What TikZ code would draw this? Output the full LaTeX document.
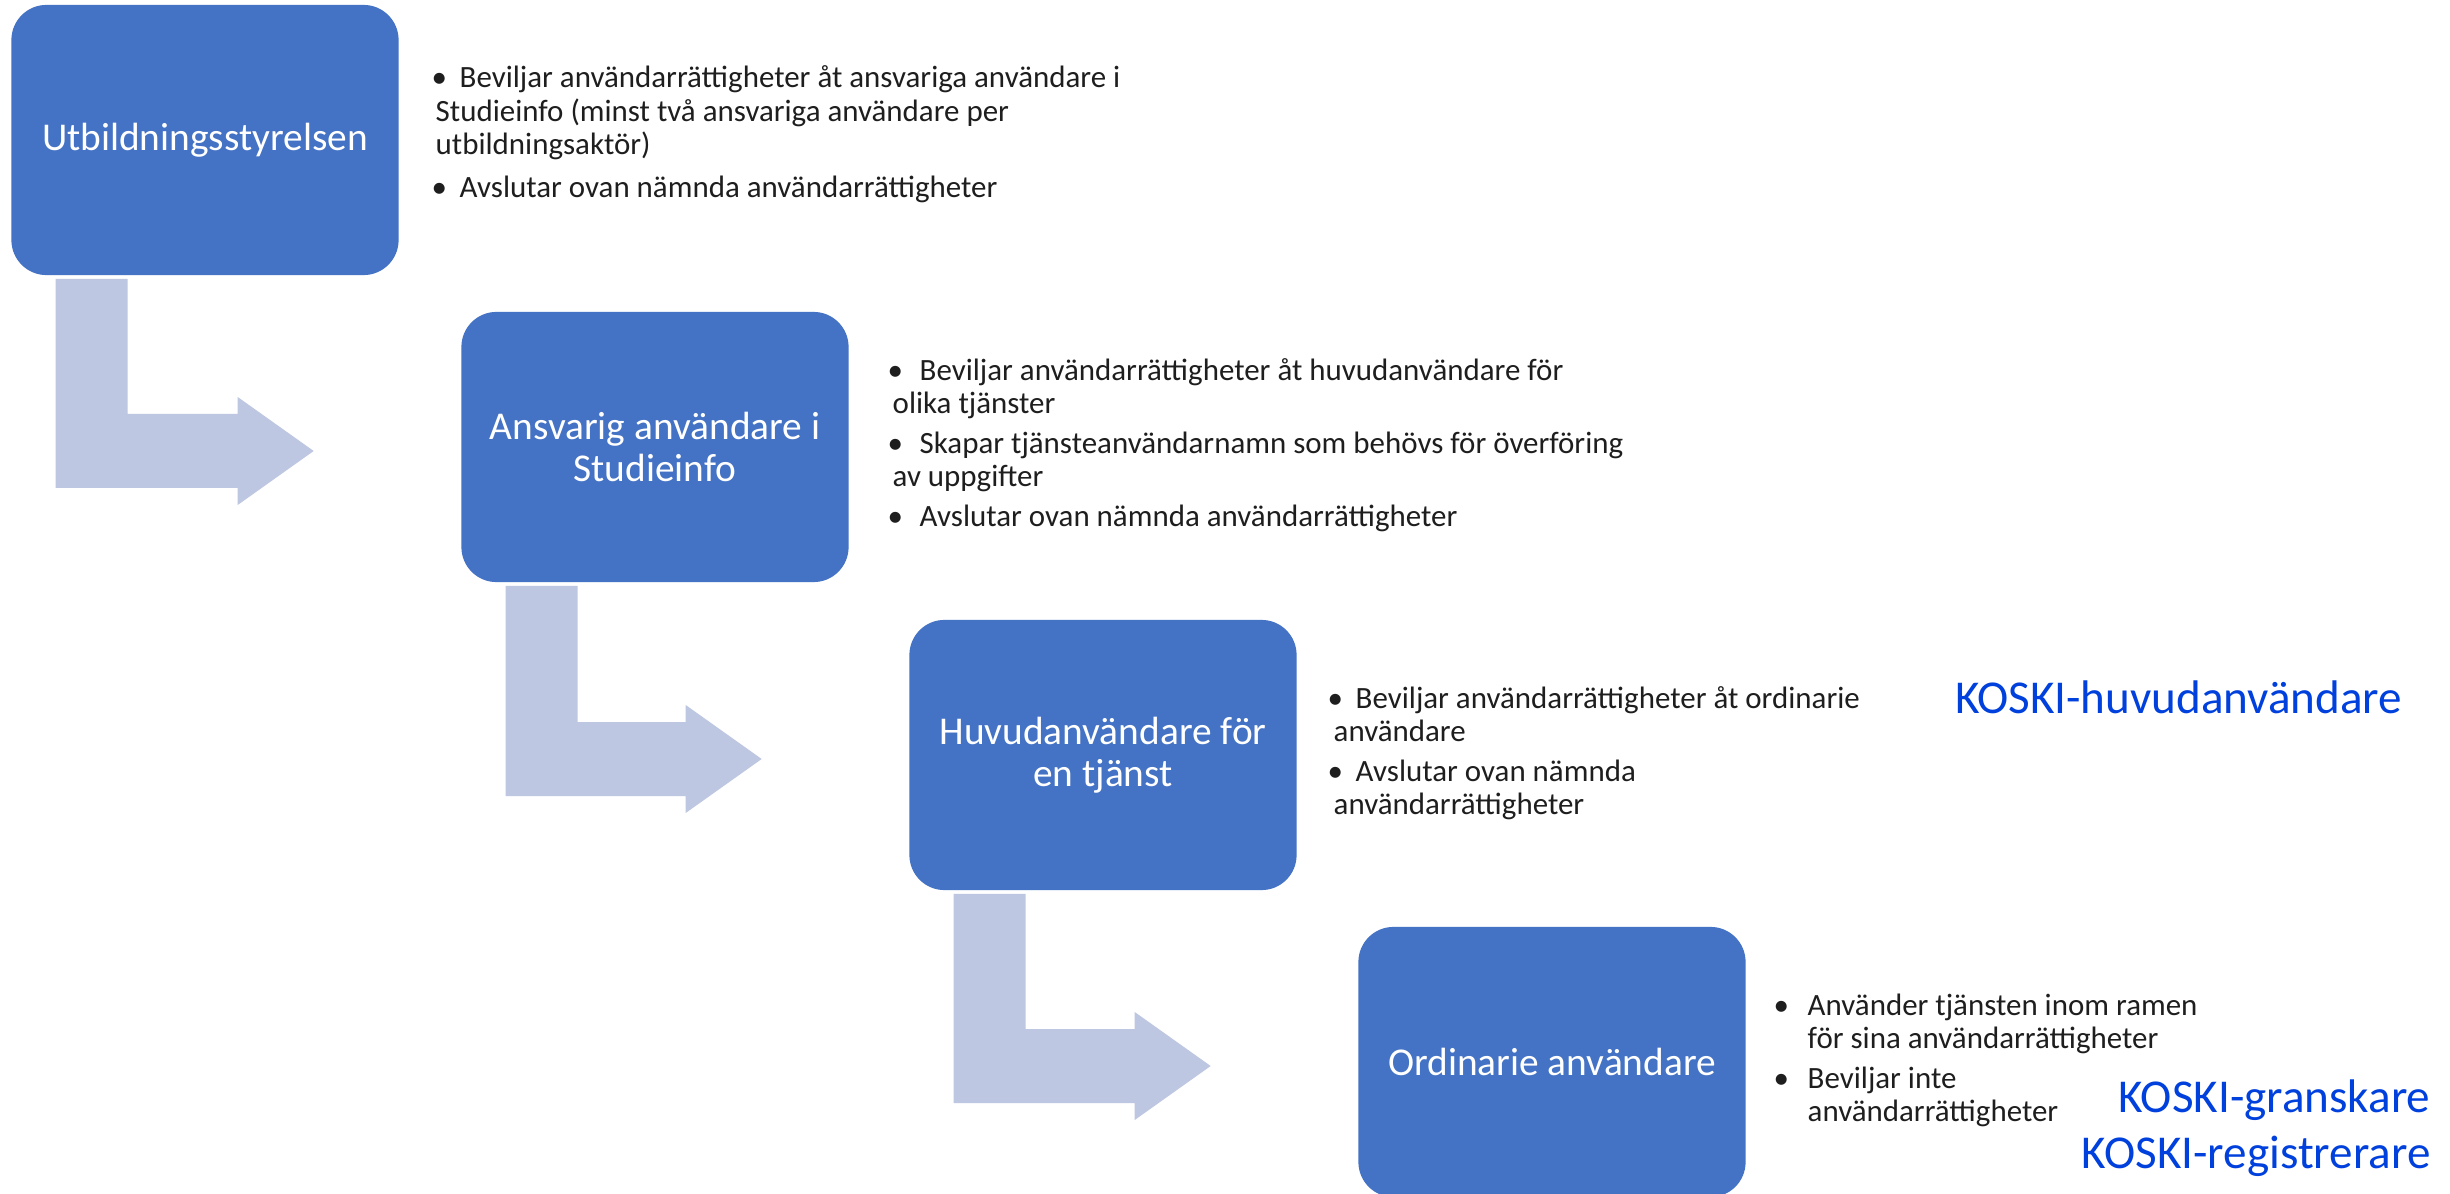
\documentclass[tikz,border=0pt]{standalone}
\usepackage{fontspec}
\setmainfont{Carlito}
\usetikzlibrary{calc}
\definecolor{boxblue}{RGB}{68,114,196}
\definecolor{arrowfill}{RGB}{190,199,226}
\definecolor{koski}{RGB}{0,64,221}
\definecolor{txt}{RGB}{30,30,30}
\newcommand\blt[1][0.30cm]{\makebox[#1][l]{•}}
\newcommand\bultext[1]{\parbox[t]{8cm}{\raggedright #1}}
\begin{document}
\begin{tikzpicture}[x=0.01cm,y=-0.01cm,
  box/.style={fill=boxblue, rounded corners=0.35cm, minimum width=3.87cm, minimum height=2.7cm,
    text=white, align=center, font=\fontsize{11.2}{11.8}\selectfont, inner sep=0pt},
  bul/.style={anchor=base west, text=txt, font=\fontsize{8.8}{9.4}\selectfont, inner sep=0pt},
  arr/.style={fill=arrowfill},
  koskilbl/.style={text=koski, font=\fontsize{13.4}{16}\selectfont, inner sep=0pt, anchor=base east}]
\useasboundingbox (0,0) rectangle (2450,1194);
\fill[white] (0,0) rectangle (2450,1194);

% boxes
\node[box] (b1) at (205,140) {Utbildningsstyrelsen};
\node[box] (b2) at (655,447) {Ansvarig användare i\\Studieinfo};
\node[box] (b3) at (1103,755) {Huvudanvändare för\\en tjänst};
\node[box] (b4) at (1552,1062) {Ordinarie användare};

% bent arrows
\coordinate (tip1) at ($(b2.west)+(-147,4)$);
\coordinate (tip2) at ($(b3.west)+(-147,4)$);
\coordinate (tip3) at ($(b4.west)+(-147,4)$);
\fill[arr] ($(b1.south west)+(45,3)$) coordinate (s1) -- ++(72,0) |- ($(tip1)+(-76,-37)$) -- ++(0,-17) -- (tip1) -- ($(tip1)+(-76,54)$) -- ++(0,-17) -| (s1) -- cycle;
\fill[arr] ($(b2.south west)+(45,3)$) coordinate (s2) -- ++(72,0) |- ($(tip2)+(-76,-37)$) -- ++(0,-17) -- (tip2) -- ($(tip2)+(-76,54)$) -- ++(0,-17) -| (s2) -- cycle;
\fill[arr] ($(b3.south west)+(45,3)$) coordinate (s3) -- ++(72,0) |- ($(tip3)+(-76,-37)$) -- ++(0,-17) -- (tip3) -- ($(tip3)+(-76,54)$) -- ++(0,-17) -| (s3) -- cycle;

% bullet texts
\node[bul] (t1) at (431,88) {\bultext{\blt[0.28cm]Beviljar användarrättigheter åt ansvariga användare i\\
\hspace*{0.04cm}Studieinfo (minst två ansvariga användare per\\
\hspace*{0.04cm}utbildningsaktör)\\[2.8pt]
\blt[0.28cm]Avslutar ovan nämnda användarrättigheter}};

\node[bul] (t2) at (887,380) {\bultext{\blt[0.32cm]Beviljar användarrättigheter åt huvudanvändare för\\
\hspace*{0.05cm}olika tjänster\\[2pt]
\blt[0.32cm]Skapar tjänsteanvändarnamn som behövs för överföring\\
\hspace*{0.05cm}av uppgifter\\[2pt]
\blt[0.32cm]Avslutar ovan nämnda användarrättigheter}};

\node[bul] (t3) at (1327,708) {\bultext{\blt[0.28cm]Beviljar användarrättigheter åt ordinarie\\
\hspace*{0.06cm}användare\\[2pt]
\blt[0.28cm]Avslutar ovan nämnda\\
\hspace*{0.06cm}användarrättigheter}};

\node[bul] (t4) at (1773,1015) {\bultext{\blt[0.34cm]Använder tjänsten inom ramen\\
\hspace*{0.34cm}för sina användarrättigheter\\[2pt]
\blt[0.34cm]Beviljar inte\\
\hspace*{0.34cm}användarrättigheter}};

% KOSKI labels
\node[koskilbl] (k1) at (2403,713) {KOSKI-huvudanvändare};
\node[koskilbl] (k2) at (2431,1112) {KOSKI-granskare};
\node[koskilbl] (k3) at (2431,1168) {KOSKI-registrerare};
\end{tikzpicture}
\end{document}
